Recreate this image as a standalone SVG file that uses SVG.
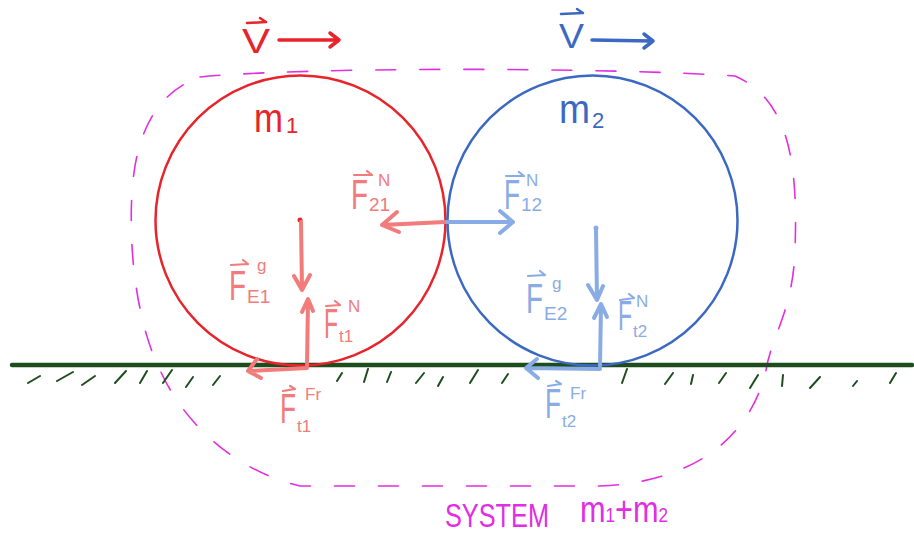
<svg xmlns="http://www.w3.org/2000/svg" width="914" height="536" viewBox="0 0 914 536">
<style>
text{font-family:"Liberation Sans",Arial,sans-serif}
.s{fill:none;stroke-linecap:round;stroke-linejoin:round}
.red{fill:#e8232a}
.blue{fill:#3b69c2}
.pk{fill:#f27b7b}
.lb{fill:#8aace4}
.mg{fill:#e22ee2}
.spk{stroke:#f27b7b;stroke-width:4}
.slb{stroke:#8aace4;stroke-width:4}
.vpk{stroke:#f27b7b;stroke-width:2.2}
.vlb{stroke:#8aace4;stroke-width:2.2}
.F{font-size:42px}
.sb{font-size:19px}
.sp{font-size:17px}
.hatch{stroke:#1d4d1d;stroke-width:2}
</style>

<g id="system-boundary">
<path class="s" d="M200,77 C300,67 600,67 735,76 C790,100 798,165 795,250 C793,310 772,335 766,370 C752,432 700,482 600,486 L300,486 C232,470 182,420 160,370 C140,330 128,262 132,192 C136,130 158,92 200,77 Z" stroke="#e22ee2" stroke-width="1.6" stroke-dasharray="20 24"/>
</g>

<g id="ground">
<line x1="12" y1="365" x2="912" y2="365" stroke="#1d4d1d" stroke-width="4.5" stroke-linecap="round"/>
<path class="s hatch" d="M28,383 L40,376 M57,381 L73,372 M82,385 L95,376 M115,383 L126,371 M140,383 L147,371 M163,383 L172,370 M186,387 L193,377 M213,385 L220,376 M337,381 L342,373 M364,382 L368,369 M387,382 L391,372 M416,383 L424,373 M438,386 L443,377 M470,383 L478,370 M502,383 L508,374 M622,383 L627,369 M665,384 L673,373 M691,384 L693,375 M719,383 L726,373 M750,388 L758,375 M782,386 L783,375 M810,388 L820,377 M853,386 L857,381 M890,383 L896,373"/>
</g>

<g id="m1">
<circle cx="300.5" cy="220.5" r="145" fill="none" stroke="#e8232a" stroke-width="2.5"/>
<text class="red" x="254" y="132" font-size="40" textLength="29" lengthAdjust="spacingAndGlyphs">m</text>
<text class="red" x="286" y="133" font-size="22">1</text>
<circle cx="300" cy="220" r="2.5" fill="#e8232a"/>
</g>

<g id="m2">
<circle cx="592.5" cy="220.5" r="145" fill="none" stroke="#3b69c2" stroke-width="2.5"/>
<text class="blue" x="559" y="123" font-size="40" textLength="31" lengthAdjust="spacingAndGlyphs">m</text>
<text class="blue" x="592" y="128" font-size="22">2</text>
<circle cx="596" cy="228" r="2.5" fill="#8aace4"/>
</g>

<g id="velocity1">
<text class="red" x="242" y="53" font-size="35" textLength="28" lengthAdjust="spacingAndGlyphs">V</text>
<path class="s" stroke="#e8232a" stroke-width="2.5" d="M247,23 L266,22 M260,18 L266,22"/>
<path class="s" stroke="#e8232a" stroke-width="3.5" d="M279,40 L338,40 M330,33 L339,40 L330,47"/>
</g>

<g id="velocity2">
<text class="blue" x="559" y="48" font-size="35" textLength="25" lengthAdjust="spacingAndGlyphs">V</text>
<path class="s" stroke="#3b69c2" stroke-width="2.5" d="M561,14 L583,13 M577,9 L583,13"/>
<path class="s" stroke="#3b69c2" stroke-width="3.5" d="M592,40 L652,41 M644,34 L653,41 L644,48"/>
</g>

<g id="connectors">
<path class="s spk" d="M445,222 L382,225 M397,212 L382,225 L399,232"/>
<path class="s slb" d="M447,222 L513,222 M500,211 L513,222 L500,233"/>
<path class="s spk" d="M301,222 L302,289 M294,276 L302,290 L310,275"/>
<path class="s spk" d="M307,366 L308,300 M302,312 L308,299 L313,311"/>
<path class="s spk" d="M307,368 L249,371 M257,359 L248,371 L261,378"/>
<path class="s slb" d="M596,230 L597,299 M588,285 L597,300 L603,286"/>
<path class="s slb" d="M600,366 L601,305 M594,318 L601,304 L607,317"/>
<path class="s slb" d="M600,369 L527,368 M537,359 L526,368 L538,378"/>
</g>

<g id="label-F21N">
<path class="s vpk" d="M354,175 L372,175 M367,171 L372,175"/>
<text class="pk F" x="351" y="209" textLength="17" lengthAdjust="spacingAndGlyphs">F</text>
<text class="pk sb" x="369" y="211">21</text>
<text class="pk sp" x="378" y="186">N</text>
</g>

<g id="label-F12N">
<path class="s vlb" d="M506,176 L524,176 M519,172 L524,176"/>
<text class="lb F" x="504" y="209" textLength="16" lengthAdjust="spacingAndGlyphs">F</text>
<text class="lb sb" x="521" y="211">12</text>
<text class="lb sp" x="526" y="186">N</text>
</g>

<g id="label-FE1g">
<path class="s vpk" d="M231,265 L248,264 M243,260 L248,264"/>
<text class="pk F" x="229" y="300" textLength="17" lengthAdjust="spacingAndGlyphs">F</text>
<text class="pk sb" x="247" y="303">E1</text>
<text class="pk sp" x="257" y="271">g</text>
</g>

<g id="label-Ft1N">
<path class="s vpk" d="M326,306 L340,305 M335,301 L340,305"/>
<text class="pk F" x="324" y="338" textLength="14" lengthAdjust="spacingAndGlyphs">F</text>
<text class="pk sp" x="339" y="342">t1</text>
<text class="pk sp" x="348" y="312">N</text>
</g>

<g id="label-FE2g">
<path class="s vlb" d="M528,276 L545,275 M540,271 L545,275"/>
<text class="lb F" x="526" y="313" textLength="17" lengthAdjust="spacingAndGlyphs">F</text>
<text class="lb sb" x="544" y="320">E2</text>
<text class="lb sp" x="552" y="289">g</text>
</g>

<g id="label-Ft2N">
<path class="s vlb" d="M620,300 L634,298 M629,294 L634,298"/>
<text class="lb F" x="618" y="330" textLength="14" lengthAdjust="spacingAndGlyphs">F</text>
<text class="lb sp" x="633" y="337">t2</text>
<text class="lb sp" x="636" y="307">N</text>
</g>

<g id="label-Ft1Fr">
<path class="s vpk" d="M283,391 L295,389 M290,386 L295,389"/>
<text class="pk F" x="280" y="423" textLength="16" lengthAdjust="spacingAndGlyphs">F</text>
<text class="pk sp" x="297" y="432">t1</text>
<text class="pk sp" x="305" y="400">Fr</text>
</g>

<g id="label-Ft2Fr">
<path class="s vlb" d="M548,386 L561,384 M556,381 L561,384"/>
<text class="lb F" x="545" y="418" textLength="16" lengthAdjust="spacingAndGlyphs">F</text>
<text class="lb sp" x="562" y="427">t2</text>
<text class="lb sp" x="570" y="399">Fr</text>
</g>

<g id="label-system">
<text class="mg" x="445" y="527" font-size="34" textLength="104" lengthAdjust="spacingAndGlyphs">SYSTEM</text>
<text class="mg" x="580" y="522" font-size="36" textLength="88" lengthAdjust="spacingAndGlyphs">m<tspan font-size="20">1</tspan>+m<tspan font-size="20">2</tspan></text>
</g>
</svg>
